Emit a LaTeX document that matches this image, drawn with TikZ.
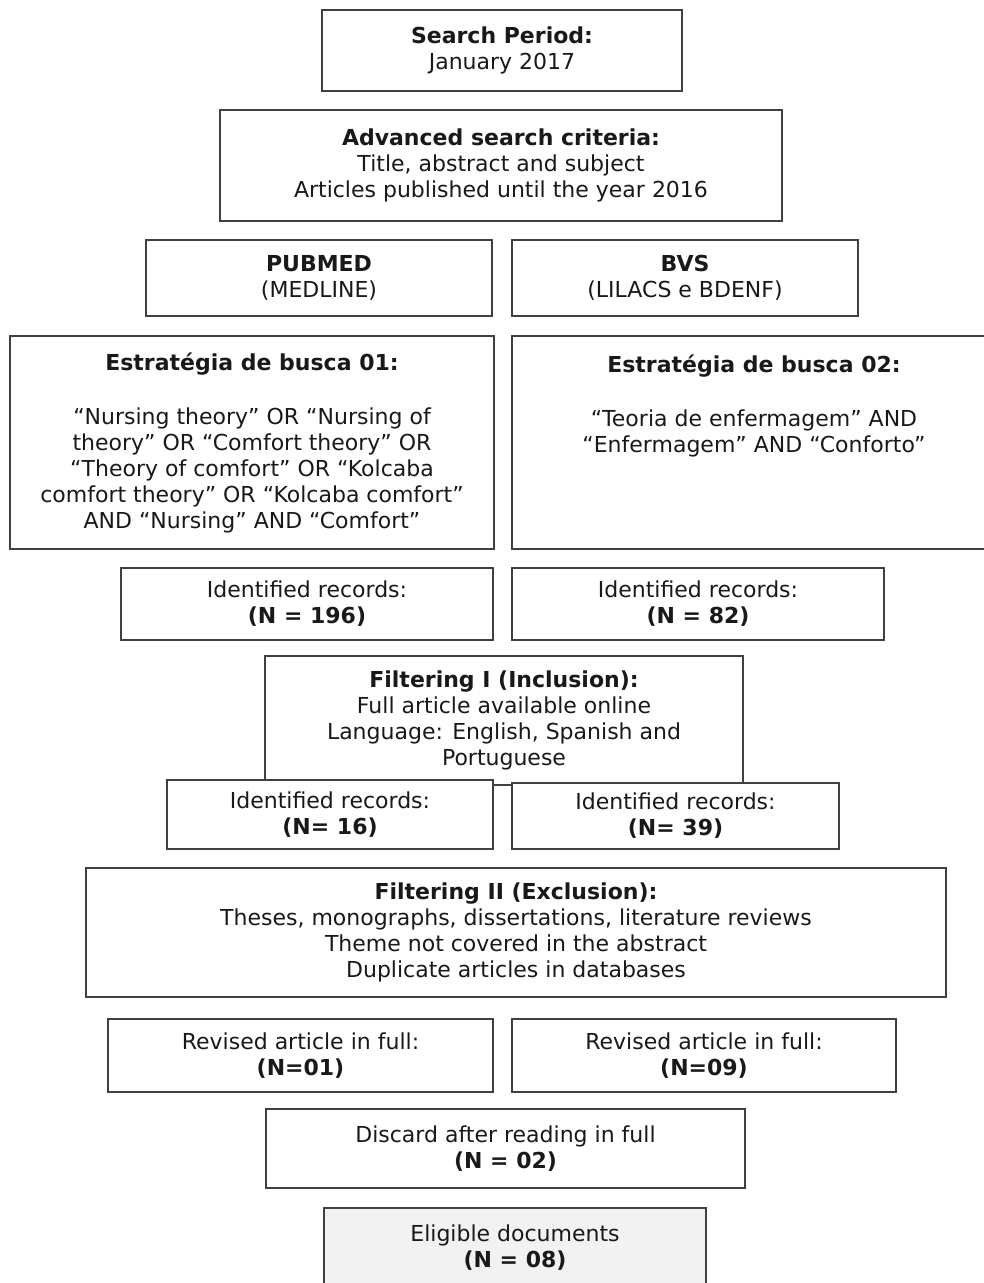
\documentclass[tikz,border=0pt]{standalone}
\usepackage{fontspec}
\setmainfont{DejaVu Sans}
\definecolor{LineClr}{rgb}{0.25,0.25,0.25}
\definecolor{TextClr}{rgb}{0.1,0.1,0.1}
\definecolor{FinalClr}{rgb}{0.95,0.95,0.95}

\begin{document}
\begin{tikzpicture}[x=1pt,y=-1pt,
  box/.style={draw=LineClr,line width=1.3pt,fill=white,inner sep=0pt,
    align=center,text=TextClr,font=\fontsize{22}{26}\selectfont},
  finalbox/.style={box,fill=FinalClr}]
\useasboundingbox (0,0) rectangle (984,1283);

% search set-up
\node[box,minimum width=360,minimum height=81] (period) at (502,50.5)
  {\textbf{Search Period:}\\January 2017};
\node[box,minimum width=562,minimum height=111] (criteria) at (501,165.5)
  {\textbf{Advanced search criteria:}\\Title, abstract and subject\\Articles published until the year 2016};

% databases
\node[box,minimum width=346,minimum height=76] (pubmed) at (319,278)
  {\textbf{PUBMED}\\(MEDLINE)};
\node[box,minimum width=346,minimum height=76] (bvs) at (685,278)
  {\textbf{BVS}\\(LILACS e BDENF)};

% strategies
\node[box,minimum width=484,minimum height=213] (strat1) at (252,442.5)
  {\textbf{Estratégia de busca 01:}\\[28pt]“Nursing theory” OR “Nursing of\\theory” OR “Comfort theory” OR\\“Theory of comfort” OR “Kolcaba\\comfort theory” OR “Kolcaba comfort”\\AND “Nursing” AND “Comfort”};
\node[box,minimum width=484,minimum height=213] (strat2) at (754,442.5)
  {\textbf{Estratégia de busca 02:}\\[28pt]“Teoria de enfermagem” AND\\“Enfermagem” AND “Conforto”\\\mbox{}\\\mbox{}\\\mbox{}};

% identified records
\node[box,minimum width=372,minimum height=72] (rec1) at (307,604)
  {Identified records:\\\textbf{(N = 196)}};
\node[box,minimum width=372,minimum height=72] (rec2) at (698,604)
  {Identified records:\\\textbf{(N = 82)}};

% filtering I
\node[box,minimum width=478,minimum height=129] (filt1) at (504,720.5)
  {\textbf{Filtering I (Inclusion):}\\Full article available online\\Language: English, Spanish and\\Portuguese};
\node[box,minimum width=326,minimum height=69] (inc1) at (330,814.5)
  {Identified records:\\\textbf{(N= 16)}};
\node[box,minimum width=327,minimum height=66] (inc2) at (675.5,816)
  {Identified records:\\\textbf{(N= 39)}};

% filtering II
\node[box,minimum width=860,minimum height=129] (filt2) at (516,932.5)
  {\textbf{Filtering II (Exclusion):}\\Theses, monographs, dissertations, literature reviews\\Theme not covered in the abstract\\Duplicate articles in databases};
\node[box,minimum width=385,minimum height=73] (rev1) at (300.5,1055.5)
  {Revised article in full:\\\textbf{(N=01)}};
\node[box,minimum width=384,minimum height=73] (rev2) at (704,1055.5)
  {Revised article in full:\\\textbf{(N=09)}};

% result
\node[box,minimum width=479,minimum height=79] (discard) at (505.5,1148.5)
  {Discard after reading in full\\\textbf{(N = 02)}};
\node[finalbox,minimum width=382,minimum height=80] (eligible) at (515,1248)
  {Eligible documents\\\textbf{(N = 08)}};

\end{tikzpicture}
\end{document}
